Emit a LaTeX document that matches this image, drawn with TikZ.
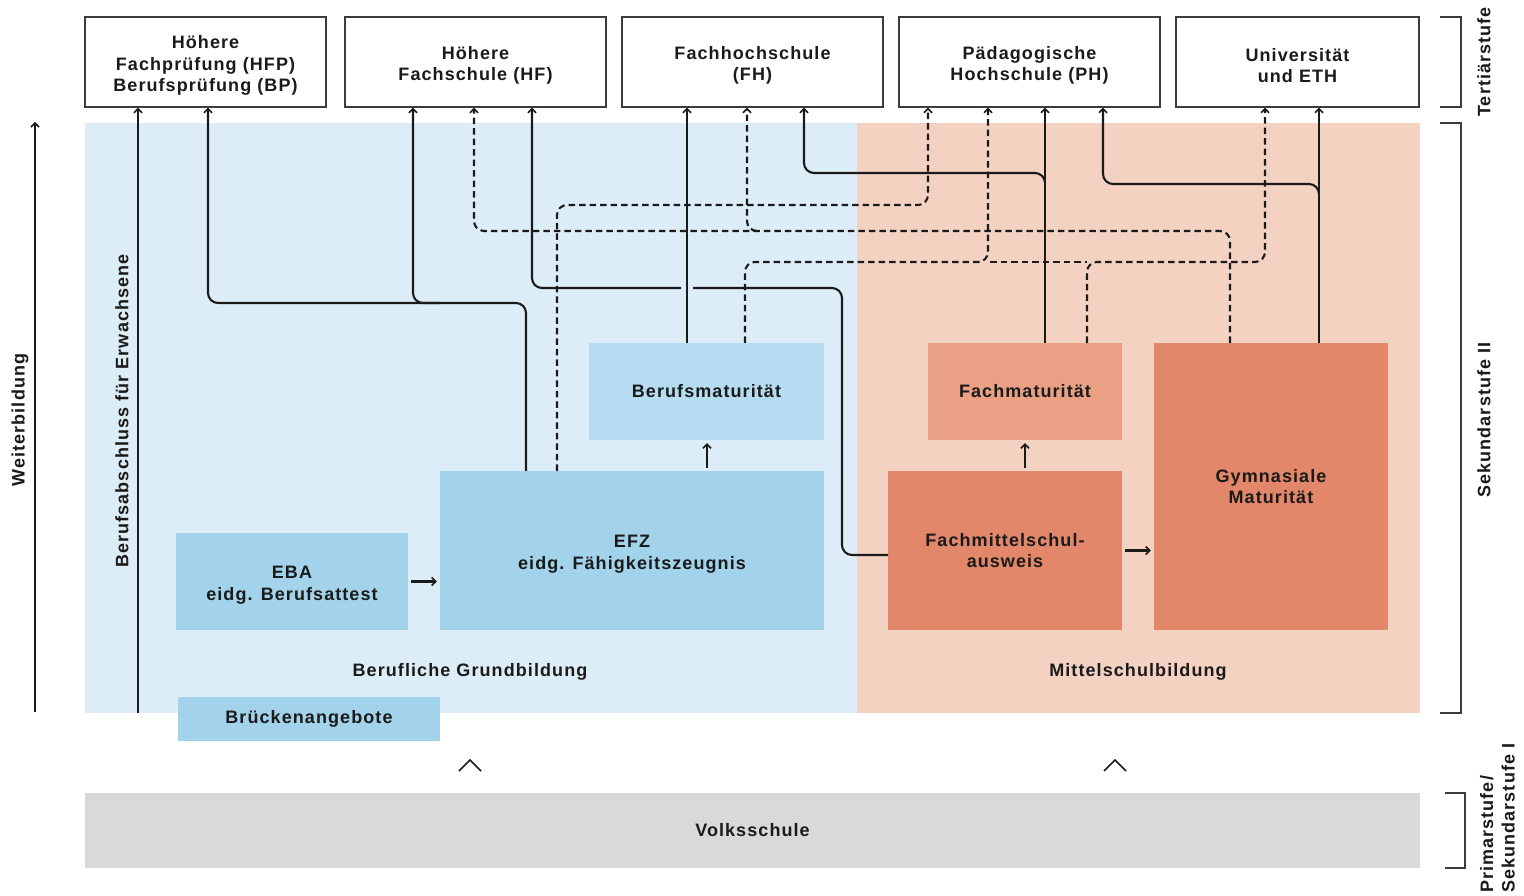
\documentclass[tikz,border=0pt]{standalone}
\usepackage{fontspec}
\setmainfont{Liberation Sans}[LetterSpace=6]
\usetikzlibrary{arrows.meta,calc}
\definecolor{bgblue}{HTML}{DCEDF8}
\definecolor{bmblue}{HTML}{B5DCF0}
\definecolor{boxblue}{HTML}{A2D3EB}
\definecolor{bgsalmon}{HTML}{F3D2C1}
\definecolor{fmsalmon}{HTML}{E9A085}
\definecolor{darksalmon}{HTML}{E2876A}
\definecolor{vsgray}{HTML}{D9D9D9}
\definecolor{ink}{HTML}{1A1A1A}
\begin{document}
\begin{tikzpicture}[x=1pt,y=-1pt,
  lbl/.style={font=\bfseries\fontsize{18}{21.5}\selectfont, text=ink, align=center, inner sep=0pt},
  mltext/.style={label={[lbl,yshift=-3.5pt]center:{#1}}},
  topbox/.style={lbl, draw=ink!85, line width=1.4pt, fill=white, minimum height=90pt},
  ln/.style={line width=2.1pt, draw=ink, rounded corners=10pt},
  arr/.style={ln, -{Straight Barb[length=4pt,width=8pt,line width=1.5pt]}},
  dsh/.style={ln, line width=2.1pt, dash pattern=on 6.5pt off 4pt},
  darr/.style={dsh, -{Straight Barb[length=4pt,width=8pt,line width=1.5pt]}},
  brk/.style={line width=1.5pt, draw=ink!85},
]
\useasboundingbox (0,0) rectangle (1524,896);
\fill[white] (0,0) rectangle (1524,896);

% background areas
\fill[bgblue] (85,123) rectangle (857,713);
\fill[bgsalmon] (857,123) rectangle (1420,713);

% top boxes
\node[topbox, minimum width=241pt, mltext={Höhere\\Fachprüfung (HFP)\\Berufsprüfung (BP)}] (hfp) at (205.5,62) {};
\node[topbox, minimum width=261pt, mltext={Höhere\\Fachschule (HF)}] (hf) at (475.5,62) {};
\node[topbox, minimum width=261pt, mltext={Fachhochschule\\(FH)}] (fh) at (752.5,62) {};
\node[topbox, minimum width=261pt, mltext={Pädagogische\\Hochschule (PH)}] (ph) at (1029.5,62) {};
\node[topbox, minimum width=243pt, mltext={Universität\\und ETH}] (uni) at (1297.5,62) {};

% inner boxes
\node[lbl, fill=bmblue, minimum width=235pt, minimum height=97pt] (bm) at (706.5,391.5) {Berufsmaturität};
\node[lbl, fill=boxblue, minimum width=384pt, minimum height=159pt, mltext={EFZ\\eidg. Fähigkeitszeugnis}] (efz) at (632,550.5) {};
\node[lbl, fill=boxblue, minimum width=232pt, minimum height=97pt, mltext={EBA\\eidg. Berufsattest}] (eba) at (292,581.5) {};
\node[lbl, fill=boxblue, minimum width=262pt, minimum height=44pt] (br) at (309,719) {Brückenangebote};
\node[lbl, fill=fmsalmon, minimum width=194pt, minimum height=97pt] (fm) at (1025,391.5) {Fachmaturität};
\node[lbl, fill=darksalmon, minimum width=234pt, minimum height=159pt] (fms) at (1005,550.5) {Fachmittelschul-\\ausweis};
\node[lbl, fill=darksalmon, minimum width=234pt, minimum height=287pt] (gym) at (1271,486.5) {Gymnasiale\\Maturität};
\node[lbl, fill=vsgray, minimum width=1335pt, minimum height=75pt] (vs) at (752.5,830.5) {Volksschule};

% area labels
\node[lbl] (bg) at (470,672) {Berufliche Grundbildung};
\node[lbl] (ms) at (1138,672) {Mittelschulbildung};

% rotated labels
\node[lbl, rotate=90] (wb) at (20,420) {Weiterbildung};
\node[lbl, rotate=90] (bae) at (122,411) {Berufsabschluss für Erwachsene};
\node[lbl, rotate=90] (ts) at (1484,62) {Tertiärstufe};
\node[lbl, rotate=90] (s2) at (1484,420) {Sekundarstufe II};
\node[lbl, rotate=90, align=left, anchor=west] (ps) at (1497.5,893) {Primarstufe/\\Sekundarstufe I};

% brackets
\draw[brk] (1440,17) -- (1461,17) -- (1461,107) -- (1440,107);
\draw[brk] (1440,123) -- (1461,123) -- (1461,713) -- (1440,713);
\draw[brk] (1445,793) -- (1465,793) -- (1465,868) -- (1445,868);

% carets
\draw[line width=1.5pt, draw=ink] (459,771) -- (470,760) -- (481,771);
\draw[line width=1.5pt, draw=ink] (1104,771) -- (1115,760) -- (1126,771);

% column coordinates
\foreach \c in {138,208,413,474,526,532,557,687,707,745,747,804,928,988,1025,1045,1087,1103,1230,1265,1319}
  {\coordinate (c\c) at (\c,0);}
\coordinate (wb0) at (35,712);
\coordinate (wb1) at (35,122);
\coordinate (bae0) at (138,713);
\coordinate (fmsin) at (888,555);

% Weiterbildung arrow
\draw[arr, rounded corners=0pt] (wb0) -- (wb1);
% Berufsabschluss fuer Erwachsene
\draw[arr] (bae0) -- (hfp.south -| c138);

% EFZ -> HFP and HF
\draw[arr] (efz.north -| c526) -- (526,303) -- (208,303) -- (hfp.south -| c208);
\draw[arr] (440,303) -- (413,303) -- (hf.south -| c413);

% FMS -> HF (with gap at crossing)
\draw[ln] (fmsin) -- (842,555) -- (842,288) -- (693,288);
\draw[arr] (681,288) -- (532,288) -- (hf.south -| c532);

% Berufsmaturitaet -> FH
\draw[arr] (bm.north -| c687) -- (fh.south -| c687);

% dashed: EFZ -> PH
\draw[darr] (efz.north -| c557) -- (557,205) -- (928,205) -- (ph.south -| c928);
% dashed: Gym -> HF, FH
\draw[darr] (gym.north -| c1230) -- (1230,231) -- (474,231) -- (hf.south -| c474);
\draw[darr] (757,231) -- (747,231) -- (fh.south -| c747);
% dashed: BM -> PH, Uni ; FM -> Uni
\draw[darr] (bm.north -| c745) -- (745,262) -- (988,262) -- (ph.south -| c988);
\draw[dsh] (990,262) -- (1087,262);
\draw[darr] (fm.north -| c1087) -- (1087,262) -- (1265,262) -- (uni.south -| c1265);

% solid: FM -> PH, FH
\draw[arr] (fm.north -| c1045) -- (ph.south -| c1045);
\draw[arr] (1045,183) -- (1045,173) -- (804,173) -- (fh.south -| c804);
% solid: Gym -> Uni, PH
\draw[arr] (gym.north -| c1319) -- (uni.south -| c1319);
\draw[arr] (1319,194) -- (1319,184) -- (1103,184) -- (ph.south -| c1103);

% short arrows between boxes
\draw[arr] ($(eba.east)+(3,0)$) -- ($(efz.west |- eba.east)+(-3,0)$);
\draw[arr] ($(efz.north -| c707)+(0,-3)$) -- ($(bm.south -| c707)+(0,3)$);
\draw[arr] ($(fms.north -| c1025)+(0,-3)$) -- ($(fm.south -| c1025)+(0,3)$);
\draw[arr] ($(fms.east)+(3,0)$) -- ($(gym.west |- fms.east)+(-3,0)$);
\end{tikzpicture}
\end{document}
